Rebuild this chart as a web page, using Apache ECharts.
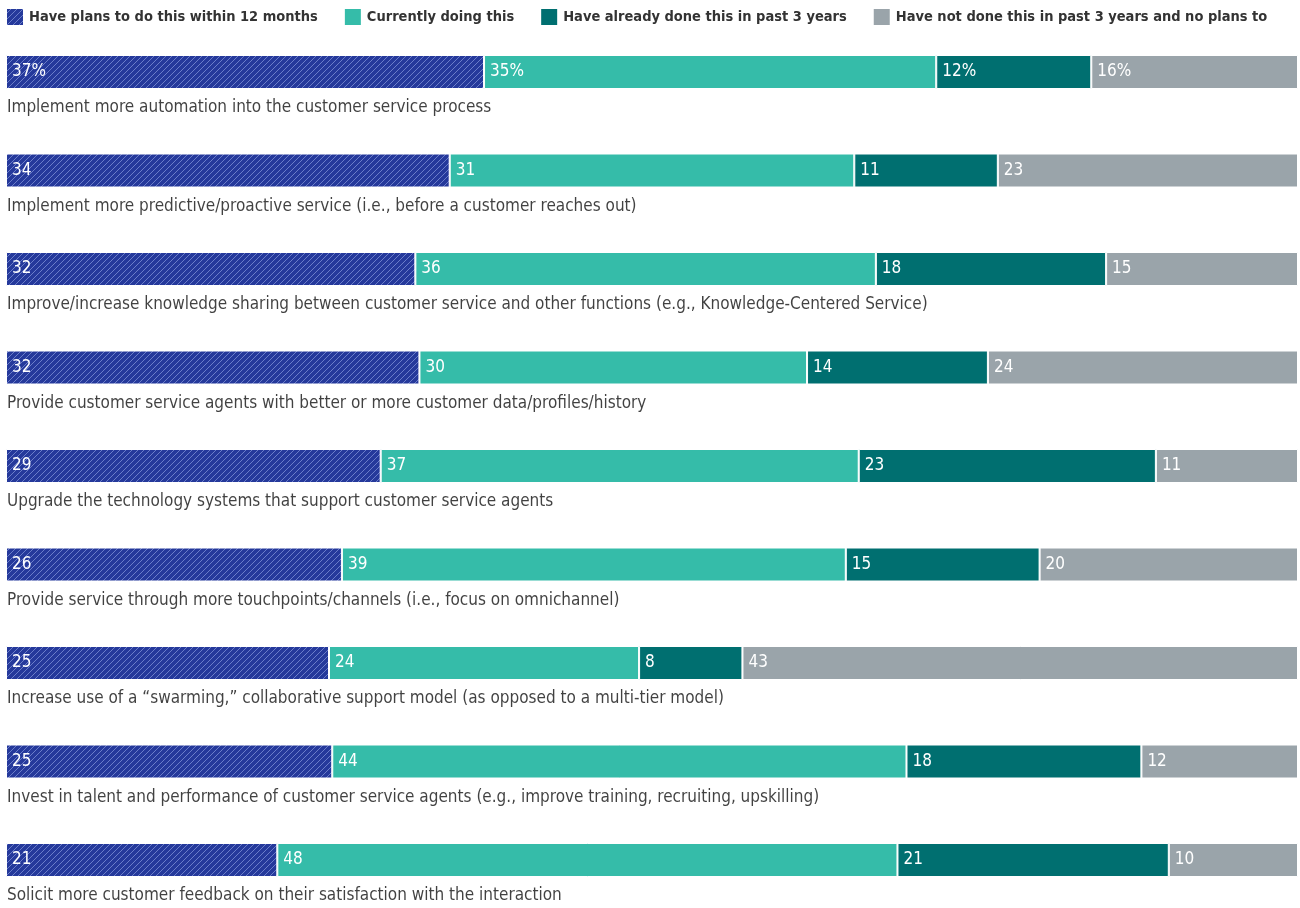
<!DOCTYPE html>
<html>
<head>
<meta charset="utf-8">
<script src="https://cdn.jsdelivr.net/npm/echarts@6/dist/echarts.min.js"></script>
<style>
html,body{margin:0;padding:0;background:#fff;}
#chart{width:1300px;height:908px;}
</style>
</head>
<body>
<div id="chart"></div>
<script>
const categories = [
  "Implement more automation into the customer service process",
  "Implement more predictive/proactive service (i.e., before a customer reaches out)",
  "Improve/increase knowledge sharing between customer service and other functions (e.g., Knowledge-Centered Service)",
  "Provide customer service agents with better or more customer data/profiles/history",
  "Upgrade the technology systems that support customer service agents",
  "Provide service through more touchpoints/channels (i.e., focus on omnichannel)",
  "Increase use of a \u201cswarming,\u201d collaborative support model (as opposed to a multi-tier model)",
  "Invest in talent and performance of customer service agents (e.g., improve training, recruiting, upskilling)",
  "Solicit more customer feedback on their satisfaction with the interaction"
];
const seriesNames = [
  "Have plans to do this within 12 months",
  "Currently doing this",
  "Have already done this in past 3 years",
  "Have not done this in past 3 years and no plans to"
];
const plans12m   = [37, 34, 32, 32, 29, 26, 25, 25, 21];
const currently  = [35, 31, 36, 30, 37, 39, 24, 44, 48];
const donePast3  = [12, 11, 18, 14, 23, 15,  8, 18, 21];
const notDone    = [16, 23, 15, 24, 11, 20, 43, 12, 10];

const FONT = '"DejaVu Sans Condensed","Liberation Sans Narrow","Roboto",sans-serif';
const raw = [plans12m, currently, donePast3, notDone];
const rowSums = categories.map((_, i) => raw.reduce((s, a) => s + a[i], 0));

// hatch pattern
function makeHatch() {
  const s = 6;
  const c = document.createElement('canvas');
  c.width = s; c.height = s;
  const g = c.getContext('2d');
  g.fillStyle = '#25399b';
  g.fillRect(0, 0, s, s);
  g.strokeStyle = 'rgba(125,142,212,0.8)';
  g.lineWidth = 1;
  g.beginPath();
  g.moveTo(0, s); g.lineTo(s, 0);
  g.moveTo(-1, 1); g.lineTo(1, -1);
  g.moveTo(s - 1, s + 1); g.lineTo(s + 1, s - 1);
  g.stroke();
  return c;
}
const hatch = {image: makeHatch(), repeat: 'repeat'};
const colors = [hatch, '#35bca9', '#006f70', '#9aa4aa'];

const chart = echarts.init(document.getElementById('chart'), null, {renderer: 'canvas'});

const barSeries = raw.map((arr, k) => ({
  name: seriesNames[k],
  type: 'bar',
  stack: 'total',
  barWidth: 34,
  itemStyle: {color: colors[k], borderColor: '#ffffff', borderWidth: 1},
  label: {
    show: true,
    position: 'insideLeft',
    distance: 6,
    color: '#ffffff',
    fontFamily: FONT,
    fontSize: 17,
    formatter: p => arr[p.dataIndex] + (p.dataIndex === 0 ? '%' : '')
  },
  emphasis: {disabled: true},
  data: arr.map((v, i) => v / rowSums[i] * 100)
}));

const labelSeries = {
  type: 'scatter',
  symbolSize: 0,
  silent: true,
  label: {
    show: true,
    position: 'right',
    distance: 0,
    offset: [1, 36],
    color: '#111111',
    fontFamily: FONT,
    fontSize: 17,
    formatter: p => categories[p.dataIndex]
  },
  data: categories.map((c, i) => [0, c])
};

chart.setOption({
  animation: false,
  legend: {
    left: 5,
    top: 7,
    padding: 0,
    itemWidth: 18,
    itemHeight: 18,
    itemGap: 25,
    icon: 'rect',
    textStyle: {fontFamily: FONT, fontSize: 14.5, fontWeight: 'bold', color: '#333333'},
    data: seriesNames
  },
  grid: {left: 6, right: 2, top: 72, bottom: 48, containLabel: false},
  xAxis: {type: 'value', min: 0, max: 100, show: false},
  yAxis: {
    type: 'category',
    data: categories,
    inverse: true,
    boundaryGap: false,
    show: false
  },
  series: [...barSeries, labelSeries]
});
</script>
</body>
</html>
